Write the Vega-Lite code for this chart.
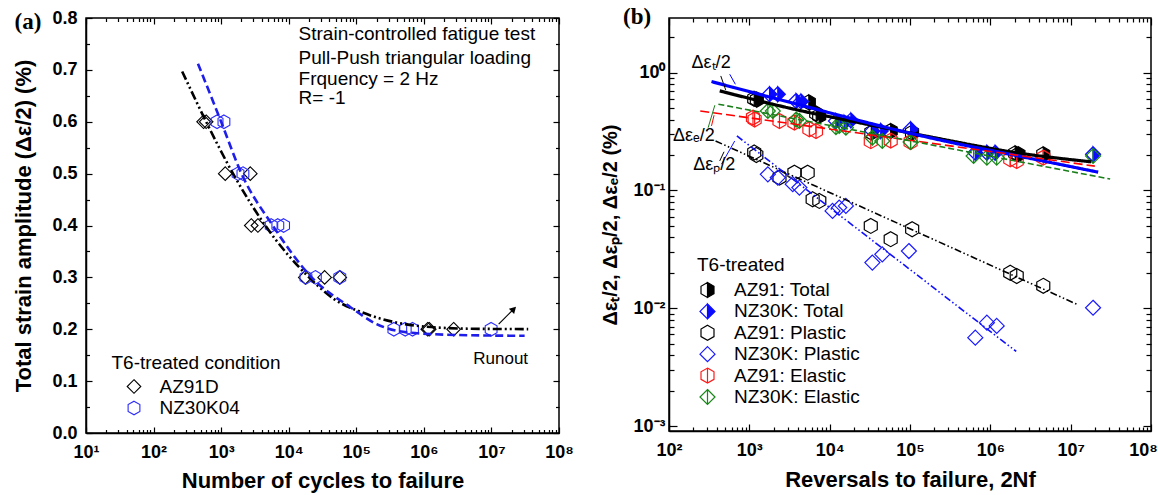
{
  "$schema": "https://vega.github.io/schema/vega-lite/v6.json",
  "background": "white",
  "padding": {"left": 12, "top": 5, "right": 5, "bottom": 5},
  "config": {
    "view": {"stroke": "#000000", "strokeWidth": 1.5},
    "axis": {"grid": false, "domainColor": "#000000", "domainWidth": 1.5, "tickColor": "#000000", "tickWidth": 1.2,
      "labelFont": "Liberation Sans", "labelFontWeight": "bold", "labelFontSize": 18, "labelColor": "#000000",
      "titleFont": "Liberation Sans", "titleFontWeight": "bold", "titleFontSize": 22, "titleColor": "#000000",
      "labelOverlap": false, "labelFlush": false},
    "legend": {"labelFont": "Liberation Sans", "titleFont": "Liberation Sans", "labelFontSize": 19, "titleFontSize": 19,
      "titleFontWeight": "normal", "labelColor": "#000000", "titleColor": "#000000", "padding": 0, "labelLimit": 300, "titleLimit": 400},
    "text": {"font": "Liberation Sans", "color": "#000000"}
  },
  "datasets": {
    "a_points": [
      {"N": 550, "amp": 0.6, "series": "AZ91D"}, {"N": 600, "amp": 0.6, "series": "AZ91D"},
      {"N": 1150, "amp": 0.5, "series": "AZ91D"}, {"N": 2700, "amp": 0.5, "series": "AZ91D"},
      {"N": 2790, "amp": 0.4, "series": "AZ91D"}, {"N": 3500, "amp": 0.4, "series": "AZ91D"},
      {"N": 17600, "amp": 0.3, "series": "AZ91D"}, {"N": 34000, "amp": 0.3, "series": "AZ91D"}, {"N": 57000, "amp": 0.3, "series": "AZ91D"},
      {"N": 1140000, "amp": 0.2, "series": "AZ91D"}, {"N": 1200000, "amp": 0.2, "series": "AZ91D"}, {"N": 2760000, "amp": 0.2, "series": "AZ91D"},
      {"N": 870, "amp": 0.6, "series": "NZ30K04"}, {"N": 1100, "amp": 0.6, "series": "NZ30K04"},
      {"N": 1780, "amp": 0.5, "series": "NZ30K04"}, {"N": 2100, "amp": 0.5, "series": "NZ30K04"},
      {"N": 5500, "amp": 0.4, "series": "NZ30K04"}, {"N": 6900, "amp": 0.4, "series": "NZ30K04"}, {"N": 8400, "amp": 0.4, "series": "NZ30K04"},
      {"N": 18000, "amp": 0.3, "series": "NZ30K04"}, {"N": 24800, "amp": 0.3, "series": "NZ30K04"}, {"N": 57000, "amp": 0.3, "series": "NZ30K04"},
      {"N": 360000, "amp": 0.2, "series": "NZ30K04"}, {"N": 530000, "amp": 0.2, "series": "NZ30K04"}, {"N": 680000, "amp": 0.2, "series": "NZ30K04"},
      {"N": 9900000, "amp": 0.2, "series": "NZ30K04"}
    ],
    "a_fit": [
      {"N": 265, "amp": 0.697, "fit": "AZ91D"}, {"N": 600, "amp": 0.6, "fit": "AZ91D"}, {"N": 1500, "amp": 0.5, "fit": "AZ91D"},
      {"N": 4500, "amp": 0.4, "fit": "AZ91D"}, {"N": 20000, "amp": 0.3, "fit": "AZ91D"}, {"N": 47000, "amp": 0.258, "fit": "AZ91D"},
      {"N": 122000, "amp": 0.2325, "fit": "AZ91D"}, {"N": 390000, "amp": 0.213, "fit": "AZ91D"}, {"N": 1070000, "amp": 0.205, "fit": "AZ91D"},
      {"N": 5000000, "amp": 0.201, "fit": "AZ91D"}, {"N": 35000000, "amp": 0.2003, "fit": "AZ91D"},
      {"N": 454, "amp": 0.712, "fit": "NZ30K04"}, {"N": 1000, "amp": 0.6, "fit": "NZ30K04"}, {"N": 2000, "amp": 0.5, "fit": "NZ30K04"},
      {"N": 5800, "amp": 0.4, "fit": "NZ30K04"}, {"N": 21800, "amp": 0.3, "fit": "NZ30K04"}, {"N": 83000, "amp": 0.242, "fit": "NZ30K04"},
      {"N": 200000, "amp": 0.21, "fit": "NZ30K04"}, {"N": 560000, "amp": 0.194, "fit": "NZ30K04"}, {"N": 3000000, "amp": 0.189, "fit": "NZ30K04"},
      {"N": 31000000, "amp": 0.1874, "fit": "NZ30K04"}
    ],
    "a_notes": [
      {"N": 14000, "amp": 0.7686, "text": "Strain-controlled fatigue test"},
      {"N": 14000, "amp": 0.7223, "text": "Pull-Push triangular loading"},
      {"N": 14000, "amp": 0.683, "text": "Frquency = 2 Hz"},
      {"N": 14000, "amp": 0.6464, "text": "R= -1"}
    ],
    "a_runout": [{"N": 13700000, "amp": 0.142, "text": "Runout"}],
    "a_arrow": [{"N": 12800000, "amp": 0.21, "N2": 21400000, "amp2": 0.239}],
    "a_label": [{"N": 1.387, "amp": 0.792, "text": "(a)"}],
    "b_points": [
      {"rev": 1150, "strain": 0.6, "series": "AZ91: Total"}, {"rev": 1240, "strain": 0.59, "series": "AZ91: Total"},
      {"rev": 5500, "strain": 0.56, "series": "AZ91: Total"}, {"rev": 6800, "strain": 0.45, "series": "AZ91: Total"},
      {"rev": 7400, "strain": 0.43, "series": "AZ91: Total"}, {"rev": 33000, "strain": 0.31, "series": "AZ91: Total"},
      {"rev": 57500, "strain": 0.32, "series": "AZ91: Total"}, {"rev": 106000, "strain": 0.31, "series": "AZ91: Total"},
      {"rev": 2040000, "strain": 0.207, "series": "AZ91: Total"}, {"rev": 2240000, "strain": 0.203, "series": "AZ91: Total"},
      {"rev": 4560000, "strain": 0.203, "series": "AZ91: Total"},
      {"rev": 1785, "strain": 0.656, "series": "NZ30K: Total"}, {"rev": 2262, "strain": 0.656, "series": "NZ30K: Total"},
      {"rev": 3820, "strain": 0.575, "series": "NZ30K: Total"}, {"rev": 4400, "strain": 0.57, "series": "NZ30K: Total"},
      {"rev": 11970, "strain": 0.389, "series": "NZ30K: Total"}, {"rev": 15170, "strain": 0.377, "series": "NZ30K: Total"},
      {"rev": 18370, "strain": 0.394, "series": "NZ30K: Total"}, {"rev": 34000, "strain": 0.32, "series": "NZ30K: Total"},
      {"rev": 43200, "strain": 0.32, "series": "NZ30K: Total"}, {"rev": 101700, "strain": 0.331, "series": "NZ30K: Total"},
      {"rev": 650000, "strain": 0.209, "series": "NZ30K: Total"}, {"rev": 906000, "strain": 0.209, "series": "NZ30K: Total"},
      {"rev": 1150000, "strain": 0.209, "series": "NZ30K: Total"}, {"rev": 19000000, "strain": 0.203, "series": "NZ30K: Total"},
      {"rev": 1150, "strain": 0.21, "series": "AZ91: Plastic"}, {"rev": 1222, "strain": 0.2, "series": "AZ91: Plastic"},
      {"rev": 2373, "strain": 0.1285, "series": "AZ91: Plastic"}, {"rev": 3640, "strain": 0.1416, "series": "AZ91: Plastic"},
      {"rev": 5320, "strain": 0.1416, "series": "AZ91: Plastic"}, {"rev": 6140, "strain": 0.0842, "series": "AZ91: Plastic"},
      {"rev": 7430, "strain": 0.0815, "series": "AZ91: Plastic"}, {"rev": 32500, "strain": 0.05, "series": "AZ91: Plastic"},
      {"rev": 57500, "strain": 0.0386, "series": "AZ91: Plastic"}, {"rev": 106400, "strain": 0.0469, "series": "AZ91: Plastic"},
      {"rev": 1770000, "strain": 0.02, "series": "AZ91: Plastic"}, {"rev": 2130000, "strain": 0.0188, "series": "AZ91: Plastic"},
      {"rev": 4560000, "strain": 0.0155, "series": "AZ91: Plastic"},
      {"rev": 1700, "strain": 0.137, "series": "NZ30K: Plastic"}, {"rev": 2262, "strain": 0.1285, "series": "NZ30K: Plastic"},
      {"rev": 3470, "strain": 0.113, "series": "NZ30K: Plastic"}, {"rev": 4200, "strain": 0.1057, "series": "NZ30K: Plastic"},
      {"rev": 10860, "strain": 0.067, "series": "NZ30K: Plastic"}, {"rev": 13150, "strain": 0.0715, "series": "NZ30K: Plastic"},
      {"rev": 15920, "strain": 0.0739, "series": "NZ30K: Plastic"}, {"rev": 34000, "strain": 0.0244, "series": "NZ30K: Plastic"},
      {"rev": 45200, "strain": 0.0287, "series": "NZ30K: Plastic"}, {"rev": 96900, "strain": 0.0306, "series": "NZ30K: Plastic"},
      {"rev": 650000, "strain": 0.00563, "series": "NZ30K: Plastic"}, {"rev": 906000, "strain": 0.00755, "series": "NZ30K: Plastic"},
      {"rev": 1200000, "strain": 0.00708, "series": "NZ30K: Plastic"}, {"rev": 19000000, "strain": 0.0101, "series": "NZ30K: Plastic"},
      {"rev": 1110, "strain": 0.415, "series": "AZ91: Elastic"}, {"rev": 1164, "strain": 0.4, "series": "AZ91: Elastic"},
      {"rev": 2373, "strain": 0.389, "series": "AZ91: Elastic"}, {"rev": 3640, "strain": 0.377, "series": "AZ91: Elastic"},
      {"rev": 5590, "strain": 0.331, "series": "AZ91: Elastic"}, {"rev": 6760, "strain": 0.32, "series": "AZ91: Elastic"},
      {"rev": 32500, "strain": 0.262, "series": "AZ91: Elastic"}, {"rev": 57500, "strain": 0.265, "series": "AZ91: Elastic"},
      {"rev": 101700, "strain": 0.258, "series": "AZ91: Elastic"}, {"rev": 1770000, "strain": 0.184, "series": "AZ91: Elastic"},
      {"rev": 2130000, "strain": 0.178, "series": "AZ91: Elastic"}, {"rev": 4560000, "strain": 0.19, "series": "AZ91: Elastic"},
      {"rev": 1700, "strain": 0.473, "series": "NZ30K: Elastic"}, {"rev": 1960, "strain": 0.473, "series": "NZ30K: Elastic"},
      {"rev": 3820, "strain": 0.4, "series": "NZ30K: Elastic"}, {"rev": 4200, "strain": 0.389, "series": "NZ30K: Elastic"},
      {"rev": 11970, "strain": 0.345, "series": "NZ30K: Elastic"}, {"rev": 13150, "strain": 0.353, "series": "NZ30K: Elastic"},
      {"rev": 15920, "strain": 0.341, "series": "NZ30K: Elastic"}, {"rev": 34000, "strain": 0.28, "series": "NZ30K: Elastic"},
      {"rev": 45200, "strain": 0.263, "series": "NZ30K: Elastic"}, {"rev": 101700, "strain": 0.258, "series": "NZ30K: Elastic"},
      {"rev": 619000, "strain": 0.196, "series": "NZ30K: Elastic"}, {"rev": 906000, "strain": 0.19, "series": "NZ30K: Elastic"},
      {"rev": 1200000, "strain": 0.19, "series": "NZ30K: Elastic"}, {"rev": 19000000, "strain": 0.196, "series": "NZ30K: Elastic"}
    ],
    "b_fit": [
      {"rev": 428, "strain": 0.7, "fit": "AZ91: Total fit"}, {"rev": 7080, "strain": 0.443, "fit": "AZ91: Total fit"},
      {"rev": 11400, "strain": 0.415, "fit": "AZ91: Total fit"}, {"rev": 198000, "strain": 0.281, "fit": "AZ91: Total fit"},
      {"rev": 2130000, "strain": 0.209, "fit": "AZ91: Total fit"}, {"rev": 18000000, "strain": 0.175, "fit": "AZ91: Total fit"},
      {"rev": 338, "strain": 0.84, "fit": "NZ30K: Total fit"}, {"rev": 4840, "strain": 0.52, "fit": "NZ30K: Total fit"},
      {"rev": 76400, "strain": 0.32, "fit": "NZ30K: Total fit"}, {"rev": 350000, "strain": 0.253, "fit": "NZ30K: Total fit"},
      {"rev": 1460000, "strain": 0.208, "fit": "NZ30K: Total fit"}, {"rev": 22000000, "strain": 0.143, "fit": "NZ30K: Total fit"},
      {"rev": 245, "strain": 0.473, "fit": "AZ91: Elastic fit"}, {"rev": 20000000, "strain": 0.161, "fit": "AZ91: Elastic fit"},
      {"rev": 412, "strain": 0.54, "fit": "NZ30K: Elastic fit"}, {"rev": 31000000, "strain": 0.125, "fit": "NZ30K: Elastic fit"},
      {"rev": 380, "strain": 0.263, "fit": "AZ91: Plastic fit"}, {"rev": 12000000, "strain": 0.0108, "fit": "AZ91: Plastic fit"},
      {"rev": 700, "strain": 0.29, "fit": "NZ30K: Plastic fit"}, {"rev": 2100000, "strain": 0.0043, "fit": "NZ30K: Plastic fit"}
    ],
    "b_notes": [
      {"rev": 191, "strain": 1.197, "text": "Δεₜ/2"},
      {"rev": 112, "strain": 0.29, "text": "Δεₑ/2"},
      {"rev": 200, "strain": 0.166, "text": "Δεₚ/2"}
    ],
    "b_arrows": [
      {"rev": 441, "strain": 0.938, "rev2": 508, "strain2": 0.713, "fit": "AZ91: Total fit"},
      {"rev": 570, "strain": 0.969, "rev2": 670, "strain2": 0.797, "fit": "NZ30K: Total fit"},
      {"rev": 307, "strain": 0.341, "rev2": 372, "strain2": 0.529, "fit": "NZ30K: Elastic fit"},
      {"rev": 338, "strain": 0.353, "rev2": 364, "strain2": 0.435, "fit": "AZ91: Elastic fit"},
      {"rev": 428, "strain": 0.178, "rev2": 484, "strain2": 0.213, "fit": "AZ91: Plastic fit"},
      {"rev": 450, "strain": 0.167, "rev2": 658, "strain2": 0.263, "fit": "NZ30K: Plastic fit"}
    ],
    "b_label": [{"rev": 40, "strain": 2.97, "text": "(b)"}]
  },
  "bounds": "flush",
  "spacing": 110,
  "resolve": {
    "scale": {"color": "independent", "shape": "independent", "fill": "independent", "stroke": "independent", "strokeDash": "independent"},
    "legend": {"color": "independent", "shape": "independent", "fill": "independent", "stroke": "independent", "strokeDash": "independent"}
  },
  "hconcat": [
    {
      "width": 473,
      "height": 415,
      "resolve": {"axis": {"x": "independent", "y": "independent"}},
      "layer": [
        {
          "data": {"name": "a_points"},
          "mark": {"type": "point", "filled": false, "size": 185, "strokeWidth": 1.1, "opacity": 1},
          "encoding": {
            "x": {"field": "N", "type": "quantitative", "scale": {"type": "log", "domain": [10, 100000000], "nice": false},
              "axis": {"orient": "bottom", "title": "Number of cycles to failure",
                "values": [10,20,30,40,50,60,70,80,90,100,200,300,400,500,600,700,800,900,1000,2000,3000,4000,5000,6000,7000,8000,9000,10000,20000,30000,40000,50000,60000,70000,80000,90000,100000,200000,300000,400000,500000,600000,700000,800000,900000,1000000,2000000,3000000,4000000,5000000,6000000,7000000,8000000,9000000,10000000,20000000,30000000,40000000,50000000,60000000,70000000,80000000,90000000,100000000],
                "labelExpr": "abs(log(datum.value)/LN10 - round(log(datum.value)/LN10)) < 0.001 ? '10' + ['⁻³','⁻²','⁻¹','⁰','¹','²','³','⁴','⁵','⁶','⁷','⁸'][round(log(datum.value)/LN10) + 3] : ''",
                "tickSize": {"condition": {"test": "abs(log(datum.value)/LN10 - round(log(datum.value)/LN10)) < 0.001", "value": -6}, "value": -3.5},
                "labelPadding": 16, "titlePadding": 7}},
            "y": {"field": "amp", "type": "quantitative", "scale": {"domain": [0, 0.8], "nice": false},
              "axis": {"orient": "left", "title": "Total strain amplitude (Δε/2) (%)",
                "values": [0,0.05,0.1,0.15,0.2,0.25,0.3,0.35,0.4,0.45,0.5,0.55,0.6,0.65,0.7,0.75,0.8],
                "labelExpr": "abs(datum.value*10 - round(datum.value*10)) < 0.001 ? format(datum.value, '.1f') : ''",
                "tickSize": {"condition": {"test": "abs(datum.value*10 - round(datum.value*10)) < 0.001", "value": -6}, "value": -3.5},
                "labelPadding": 15, "titlePadding": 16}},
            "color": {"field": "series", "type": "nominal", "scale": {"domain": ["AZ91D", "NZ30K04"], "range": ["#000000", "#2b2bff"]},
              "legend": {"title": "T6-treated condition", "orient": "none", "legendX": 25.5, "legendY": 335.5, "symbolSize": 185, "symbolStrokeWidth": 1.1, "symbolOffset": 13, "labelOffset": 16, "rowPadding": 1.5, "titlePadding": 4.5}},
            "shape": {"field": "series", "type": "nominal", "scale": {"domain": ["AZ91D", "NZ30K04"], "range": ["M0,-1L1,0L0,1L-1,0Z", "M0,-1L0.866,-0.5L0.866,0.5L0,1L-0.866,0.5L-0.866,-0.5Z"]},
              "legend": {"title": "T6-treated condition", "orient": "none", "legendX": 25.5, "legendY": 335.5, "symbolSize": 185, "symbolStrokeWidth": 1.1, "symbolOffset": 13, "labelOffset": 16, "rowPadding": 1.5, "titlePadding": 4.5}}
          }
        },
        {
          "data": {"name": "a_fit"},
          "transform": [{"filter": "datum.fit == 'AZ91D'"}],
          "mark": {"type": "line", "color": "#000000", "strokeWidth": 2.6, "strokeDash": [9, 3, 2, 3, 2, 3], "interpolate": "monotone"},
          "encoding": {
            "x": {"field": "N", "type": "quantitative", "scale": {"type": "log", "domain": [10, 100000000], "nice": false}, "axis": null},
            "y": {"field": "amp", "type": "quantitative", "scale": {"domain": [0, 0.8], "nice": false}, "axis": null}
          }
        },
        {
          "data": {"name": "a_fit"},
          "transform": [{"filter": "datum.fit == 'NZ30K04'"}],
          "mark": {"type": "line", "color": "#1e1ee8", "strokeWidth": 2.6, "strokeDash": [8, 4], "interpolate": "monotone"},
          "encoding": {
            "x": {"field": "N", "type": "quantitative", "scale": {"type": "log", "domain": [10, 100000000], "nice": false}, "axis": null},
            "y": {"field": "amp", "type": "quantitative", "scale": {"domain": [0, 0.8], "nice": false}, "axis": null}
          }
        },
        {
          "data": {"name": "a_notes"},
          "mark": {"type": "text", "align": "left", "baseline": "middle", "fontSize": 19},
          "encoding": {
            "x": {"field": "N", "type": "quantitative", "scale": {"type": "log", "domain": [10, 100000000], "nice": false},
              "axis": {"orient": "top", "title": null, "labels": false, "domain": false,
                "values": [10,20,30,40,50,60,70,80,90,100,200,300,400,500,600,700,800,900,1000,2000,3000,4000,5000,6000,7000,8000,9000,10000,20000,30000,40000,50000,60000,70000,80000,90000,100000,200000,300000,400000,500000,600000,700000,800000,900000,1000000,2000000,3000000,4000000,5000000,6000000,7000000,8000000,9000000,10000000,20000000,30000000,40000000,50000000,60000000,70000000,80000000,90000000,100000000],
                "tickSize": {"condition": {"test": "abs(log(datum.value)/LN10 - round(log(datum.value)/LN10)) < 0.001", "value": -6}, "value": -3.5}}},
            "y": {"field": "amp", "type": "quantitative", "scale": {"domain": [0, 0.8], "nice": false},
              "axis": {"orient": "right", "title": null, "labels": false, "domain": false,
                "values": [0,0.05,0.1,0.15,0.2,0.25,0.3,0.35,0.4,0.45,0.5,0.55,0.6,0.65,0.7,0.75,0.8],
                "tickSize": {"condition": {"test": "abs(datum.value*10 - round(datum.value*10)) < 0.001", "value": -6}, "value": -3.5}}},
            "text": {"field": "text"}
          }
        },
        {
          "data": {"name": "a_runout"},
          "mark": {"type": "text", "align": "center", "baseline": "middle", "fontSize": 17},
          "encoding": {
            "x": {"field": "N", "type": "quantitative", "scale": {"type": "log", "domain": [10, 100000000], "nice": false}, "axis": null},
            "y": {"field": "amp", "type": "quantitative", "scale": {"domain": [0, 0.8], "nice": false}, "axis": null},
            "text": {"field": "text"}
          }
        },
        {
          "data": {"name": "a_arrow"},
          "mark": {"type": "rule", "color": "#000000", "strokeWidth": 1.2},
          "encoding": {
            "x": {"field": "N", "type": "quantitative", "scale": {"type": "log", "domain": [10, 100000000], "nice": false}, "axis": null},
            "y": {"field": "amp", "type": "quantitative", "scale": {"domain": [0, 0.8], "nice": false}, "axis": null},
            "x2": {"field": "N2"},
            "y2": {"field": "amp2"}
          }
        },
        {
          "data": {"name": "a_arrow"},
          "mark": {"type": "point", "shape": "triangle-up", "angle": 45, "filled": true, "color": "#000000", "size": 55, "opacity": 1},
          "encoding": {
            "x": {"field": "N2", "type": "quantitative", "scale": {"type": "log", "domain": [10, 100000000], "nice": false}, "axis": null},
            "y": {"field": "amp2", "type": "quantitative", "scale": {"domain": [0, 0.8], "nice": false}, "axis": null}
          }
        },
        {
          "data": {"name": "a_label"},
          "mark": {"type": "text", "align": "center", "baseline": "middle", "font": "Liberation Serif", "fontWeight": "bold", "fontSize": 23},
          "encoding": {
            "x": {"field": "N", "type": "quantitative", "scale": {"type": "log", "domain": [10, 100000000], "nice": false}, "axis": null},
            "y": {"field": "amp", "type": "quantitative", "scale": {"domain": [0, 0.8], "nice": false}, "axis": null},
            "text": {"field": "text"}
          }
        }
      ]
    },
    {
      "width": 482,
      "height": 413,
      "resolve": {"axis": {"x": "independent", "y": "independent"}},
      "layer": [
        {
          "data": {"name": "b_points"},
          "mark": {"type": "point", "filled": true, "size": 225, "strokeWidth": 1.2, "opacity": 1},
          "encoding": {
            "x": {"field": "rev", "type": "quantitative", "scale": {"type": "log", "domain": [100, 100000000], "nice": false},
              "axis": {"orient": "bottom", "title": "Reversals to failure, 2Nf",
                "values": [100,200,300,400,500,600,700,800,900,1000,2000,3000,4000,5000,6000,7000,8000,9000,10000,20000,30000,40000,50000,60000,70000,80000,90000,100000,200000,300000,400000,500000,600000,700000,800000,900000,1000000,2000000,3000000,4000000,5000000,6000000,7000000,8000000,9000000,10000000,20000000,30000000,40000000,50000000,60000000,70000000,80000000,90000000,100000000],
                "labelExpr": "abs(log(datum.value)/LN10 - round(log(datum.value)/LN10)) < 0.001 ? '10' + ['⁻³','⁻²','⁻¹','⁰','¹','²','³','⁴','⁵','⁶','⁷','⁸'][round(log(datum.value)/LN10) + 3] : ''",
                "labelOffset": {"condition": {"test": "datum.value > 50000000", "value": -8}, "value": 0},
                "tickSize": {"condition": {"test": "abs(log(datum.value)/LN10 - round(log(datum.value)/LN10)) < 0.001", "value": -7}, "value": -4}, 
                "labelPadding": 17, "titlePadding": 7}},
            "y": {"field": "strain", "type": "quantitative", "scale": {"type": "log", "domain": [0.000908, 2.91], "nice": false},
              "axis": {"orient": "left", "title": "Δεₜ/2, Δεₚ/2, Δεₑ/2 (%)", "titleFontSize": 20,
                "values": [0.001,0.002,0.003,0.004,0.005,0.006,0.007,0.008,0.009,0.01,0.02,0.03,0.04,0.05,0.06,0.07,0.08,0.09,0.1,0.2,0.3,0.4,0.5,0.6,0.7,0.8,0.9,1,2],
                "labelExpr": "abs(log(datum.value)/LN10 - round(log(datum.value)/LN10)) < 0.001 ? '10' + ['⁻³','⁻²','⁻¹','⁰','¹','²','³','⁴','⁵','⁶','⁷','⁸'][round(log(datum.value)/LN10) + 3] : ''",
                "tickSize": {"condition": {"test": "abs(log(datum.value)/LN10 - round(log(datum.value)/LN10)) < 0.001", "value": -8}, "value": -5},
                "labelPadding": 12, "titlePadding": 12}},
            "fill": {"field": "series", "type": "nominal",
              "scale": {"domain": ["AZ91: Total", "NZ30K: Total", "AZ91: Plastic", "NZ30K: Plastic", "AZ91: Elastic", "NZ30K: Elastic"],
                "range": ["#000000", "#0a0aff", "transparent", "transparent", "transparent", "transparent"]},
              "legend": {"title": "T6-treated", "orient": "none", "legendX": 28, "legendY": 237.5, "symbolSize": 225, "symbolStrokeWidth": 1.2, "symbolOffset": 1, "labelOffset": 17, "rowPadding": 0.4, "titlePadding": 6}},
            "stroke": {"field": "series", "type": "nominal",
              "scale": {"domain": ["AZ91: Total", "NZ30K: Total", "AZ91: Plastic", "NZ30K: Plastic", "AZ91: Elastic", "NZ30K: Elastic"],
                "range": ["#000000", "#0a0aff", "#000000", "#1a1aff", "#ff1a1a", "#178717"]},
              "legend": {"title": "T6-treated", "orient": "none", "legendX": 28, "legendY": 237.5, "symbolSize": 225, "symbolStrokeWidth": 1.2, "symbolOffset": 1, "labelOffset": 17, "rowPadding": 0.4, "titlePadding": 6}},
            "shape": {"field": "series", "type": "nominal",
              "scale": {"domain": ["AZ91: Total", "NZ30K: Total", "AZ91: Plastic", "NZ30K: Plastic", "AZ91: Elastic", "NZ30K: Elastic"],
                "range": [
                  "M0,-1L0.866,-0.5L0.866,0.5L0,1ZM0,-1L-0.866,-0.5L-0.866,0.5L0,1L-0.866,0.5L-0.866,-0.5Z",
                  "M0,-1L1,0L0,1ZM0,-1L-1,0L0,1L-1,0Z",
                  "M0,-1L0.866,-0.5L0.866,0.5L0,1L-0.866,0.5L-0.866,-0.5Z",
                  "M0,-1L1,0L0,1L-1,0Z",
                  "M0,-1L0.866,-0.5L0.866,0.5L0,1L-0.866,0.5L-0.866,-0.5ZM0,-1L0,1",
                  "M0,-1L1,0L0,1L-1,0ZM0,-1L0,1"]},
              "legend": {"title": "T6-treated", "orient": "none", "legendX": 28, "legendY": 237.5, "symbolSize": 225, "symbolStrokeWidth": 1.2, "symbolOffset": 1, "labelOffset": 17, "rowPadding": 0.4, "titlePadding": 6}}
          }
        },
        {
          "data": {"name": "b_fit"},
          "transform": [{"filter": "datum.fit == 'AZ91: Total fit' || datum.fit == 'NZ30K: Total fit'"}],
          "mark": {"type": "line", "strokeWidth": 3.2, "interpolate": "monotone"},
          "encoding": {
            "x": {"field": "rev", "type": "quantitative", "scale": {"type": "log", "domain": [100, 100000000], "nice": false}, "axis": null},
            "y": {"field": "strain", "type": "quantitative", "scale": {"type": "log", "domain": [0.000908, 2.91], "nice": false}, "axis": null},
            "color": {"field": "fit", "type": "nominal", "legend": null,
              "scale": {"domain": ["AZ91: Total fit", "NZ30K: Total fit", "AZ91: Elastic fit", "NZ30K: Elastic fit", "AZ91: Plastic fit", "NZ30K: Plastic fit"],
                "range": ["#000000", "#0000ff", "#ff0000", "#1a7f1a", "#000000", "#1010ff"]}},
            "strokeDash": {"field": "fit", "type": "nominal", "legend": null,
              "scale": {"domain": ["AZ91: Total fit", "NZ30K: Total fit", "AZ91: Elastic fit", "NZ30K: Elastic fit", "AZ91: Plastic fit", "NZ30K: Plastic fit"],
                "range": [[1, 0], [1, 0], [9, 4], [6, 3], [7, 2.5, 1.5, 2.5, 1.5, 2.5], [7, 2.5, 1.5, 2.5, 1.5, 2.5]]}}
          }
        },
        {
          "data": {"name": "b_fit"},
          "transform": [{"filter": "datum.fit != 'AZ91: Total fit' && datum.fit != 'NZ30K: Total fit'"}],
          "mark": {"type": "line", "strokeWidth": 1.6},
          "encoding": {
            "x": {"field": "rev", "type": "quantitative", "scale": {"type": "log", "domain": [100, 100000000], "nice": false}, "axis": null},
            "y": {"field": "strain", "type": "quantitative", "scale": {"type": "log", "domain": [0.000908, 2.91], "nice": false}, "axis": null},
            "color": {"field": "fit", "type": "nominal", "legend": null,
              "scale": {"domain": ["AZ91: Total fit", "NZ30K: Total fit", "AZ91: Elastic fit", "NZ30K: Elastic fit", "AZ91: Plastic fit", "NZ30K: Plastic fit"],
                "range": ["#000000", "#0000ff", "#ff0000", "#1a7f1a", "#000000", "#1010ff"]}},
            "strokeDash": {"field": "fit", "type": "nominal", "legend": null,
              "scale": {"domain": ["AZ91: Total fit", "NZ30K: Total fit", "AZ91: Elastic fit", "NZ30K: Elastic fit", "AZ91: Plastic fit", "NZ30K: Plastic fit"],
                "range": [[1, 0], [1, 0], [9, 4], [6, 3], [7, 2.5, 1.5, 2.5, 1.5, 2.5], [7, 2.5, 1.5, 2.5, 1.5, 2.5]]}}
          }
        },
        {
          "data": {"name": "b_arrows"},
          "mark": {"type": "rule", "strokeWidth": 1},
          "encoding": {
            "x": {"field": "rev", "type": "quantitative", "scale": {"type": "log", "domain": [100, 100000000], "nice": false}, "axis": null},
            "y": {"field": "strain", "type": "quantitative", "scale": {"type": "log", "domain": [0.000908, 2.91], "nice": false}, "axis": null},
            "x2": {"field": "rev2"},
            "y2": {"field": "strain2"},
            "color": {"field": "fit", "type": "nominal", "legend": null,
              "scale": {"domain": ["AZ91: Total fit", "NZ30K: Total fit", "AZ91: Elastic fit", "NZ30K: Elastic fit", "AZ91: Plastic fit", "NZ30K: Plastic fit"],
                "range": ["#000000", "#0000ff", "#ff0000", "#1a7f1a", "#000000", "#1010ff"]}}
          }
        },
        {
          "data": {"name": "b_notes"},
          "mark": {"type": "text", "align": "left", "baseline": "middle", "fontSize": 18},
          "encoding": {
            "x": {"field": "rev", "type": "quantitative", "scale": {"type": "log", "domain": [100, 100000000], "nice": false},
              "axis": {"orient": "top", "title": null, "labels": false, "domain": false,
                "values": [100,200,300,400,500,600,700,800,900,1000,2000,3000,4000,5000,6000,7000,8000,9000,10000,20000,30000,40000,50000,60000,70000,80000,90000,100000,200000,300000,400000,500000,600000,700000,800000,900000,1000000,2000000,3000000,4000000,5000000,6000000,7000000,8000000,9000000,10000000,20000000,30000000,40000000,50000000,60000000,70000000,80000000,90000000,100000000],
                "tickSize": {"condition": {"test": "abs(log(datum.value)/LN10 - round(log(datum.value)/LN10)) < 0.001", "value": -7}, "value": -4}}},
            "y": {"field": "strain", "type": "quantitative", "scale": {"type": "log", "domain": [0.000908, 2.91], "nice": false},
              "axis": {"orient": "right", "title": null, "labels": false, "domain": false,
                "values": [0.001,0.002,0.003,0.004,0.005,0.006,0.007,0.008,0.009,0.01,0.02,0.03,0.04,0.05,0.06,0.07,0.08,0.09,0.1,0.2,0.3,0.4,0.5,0.6,0.7,0.8,0.9,1,2],
                "tickSize": {"condition": {"test": "abs(log(datum.value)/LN10 - round(log(datum.value)/LN10)) < 0.001", "value": -8}, "value": -5}}},
            "text": {"field": "text"}
          }
        },
        {
          "data": {"name": "b_label"},
          "mark": {"type": "text", "align": "center", "baseline": "middle", "font": "Liberation Serif", "fontWeight": "bold", "fontSize": 23},
          "encoding": {
            "x": {"field": "rev", "type": "quantitative", "scale": {"type": "log", "domain": [100, 100000000], "nice": false}, "axis": null},
            "y": {"field": "strain", "type": "quantitative", "scale": {"type": "log", "domain": [0.000908, 2.91], "nice": false}, "axis": null},
            "text": {"field": "text"}
          }
        }
      ]
    }
  ]
}
